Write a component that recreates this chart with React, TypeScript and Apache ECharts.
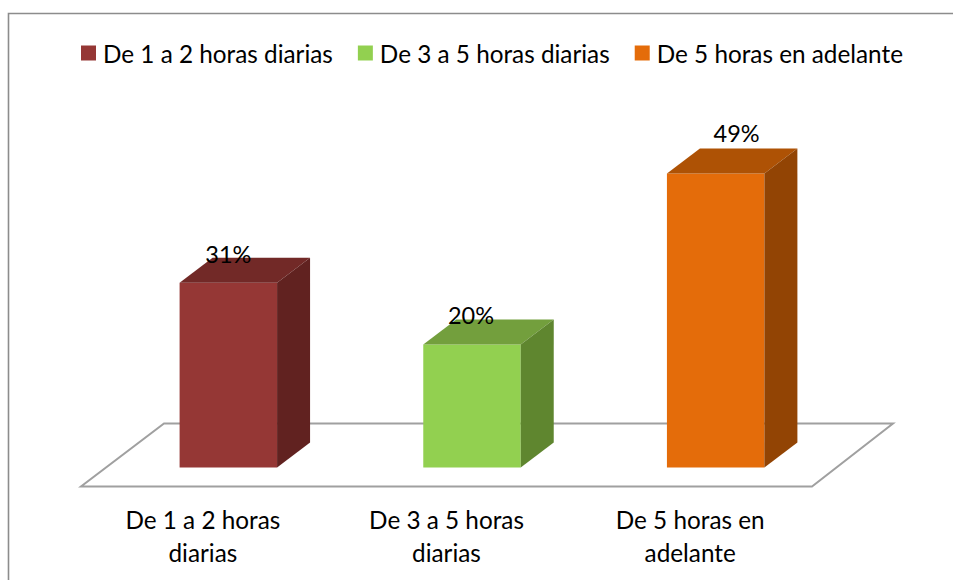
import React, { useEffect, useRef } from "react";
import * as echarts from "echarts";

const categories = ["De 1 a 2 horas\ndiarias", "De 3 a 5 horas\ndiarias", "De 5 horas en\nadelante"];
const seriesNames = ["De 1 a 2 horas diarias", "De 3 a 5 horas diarias", "De 5 horas en adelante"];
const barValues = [30.8, 20.5, 49];
const labelTexts = ["31%", "20%", "49%"];

const frontColors = ["#953735", "#92D050", "#E46C0A"];
const topColors = ["#722927", "#739F3D", "#AE5205"];
const sideColors = ["#612220", "#5F862F", "#924404"];
// label displacement from the bar's front-top centre (manually moved labels in the original)
const labelShiftX = [0, -1, 21];
const labelRise = [29, 30, 41];

const FONT = "Lato, Carlito, sans-serif";
const DEPTH_X = 33;
const DEPTH_Y = 25;
const BASE_X = 25.5;
const BASE_Y = 19;
const FLOOR_X = 83;
const FLOOR_Y = 63;

function barRenderer(i: number) {
  return (_params: any, api: any) => {
    const base = api.coord([i, 0]);
    const top = api.coord([i, api.value(1)]);
    const w = api.size([1, 0])[0] * 0.4;
    const x0 = base[0] + BASE_X - w / 2;
    const x1 = x0 + w;
    const y0 = base[1] - BASE_Y;
    const y1 = top[1] - BASE_Y;
    return {
      type: "group",
      children: [
        {
          type: "polygon",
          shape: { points: [[x0, y1], [x1, y1], [x1, y0], [x0, y0]] },
          style: { fill: frontColors[i] },
        },
        {
          type: "polygon",
          shape: { points: [[x0, y1], [x0 + DEPTH_X, y1 - DEPTH_Y], [x1 + DEPTH_X, y1 - DEPTH_Y], [x1, y1]] },
          style: { fill: topColors[i] },
        },
        {
          type: "polygon",
          shape: { points: [[x1, y1], [x1 + DEPTH_X, y1 - DEPTH_Y], [x1 + DEPTH_X, y0 - DEPTH_Y], [x1, y0]] },
          style: { fill: sideColors[i] },
        },
        {
          type: "text",
          z2: 10,
          style: {
            text: labelTexts[i],
            x: base[0] + BASE_X + labelShiftX[i],
            y: y1 - labelRise[i],
            align: "center",
            verticalAlign: "middle",
            fill: "#000000",
            font: `23.5px ${FONT}`,
          },
        },
      ],
    };
  };
}

function floorRenderer(params: any) {
  const c = params.coordSys;
  const bottom = c.y + c.height;
  return {
    type: "polygon",
    shape: {
      points: [
        [c.x, bottom],
        [c.x + c.width, bottom],
        [c.x + c.width + FLOOR_X - 2, bottom - FLOOR_Y],
        [c.x + FLOOR_X, bottom - FLOOR_Y],
      ],
    },
    style: { fill: "none", stroke: "#A0A0A0", lineWidth: 2 },
  };
}

export default function App() {
  const ref = useRef<HTMLDivElement>(null);
  useEffect(() => {
    if (!ref.current) return;
    const chart = echarts.init(ref.current, undefined, { renderer: "svg" });
    chart.setOption({
      animation: false,
      backgroundColor: "#ffffff",
      graphic: [
        {
          type: "polyline",
          z: 0,
          shape: { points: [[8.5, 580], [8.5, 13.5], [953, 13.5]] },
          style: { fill: "none", stroke: "#8C8C8C", lineWidth: 1.6 },
        },
      ],
      legend: {
        left: 81,
        top: 41,
        padding: 0,
        itemWidth: 15,
        itemHeight: 15,
        itemGap: 25,
        data: seriesNames.map((name) => ({ name, icon: "rect" })),
        textStyle: { fontFamily: FONT, fontSize: 24.3, color: "#000000", padding: [0, 0, 0, 2] },
      },
      grid: { left: 81, width: 731, top: 186.5, height: 300 },
      xAxis: {
        type: "category",
        data: categories,
        axisLine: { show: false },
        axisTick: { show: false },
        axisLabel: {
          color: "#000000",
          fontFamily: FONT,
          fontSize: 24.3,
          lineHeight: 33,
          margin: 16,
          interval: 0,
        },
      },
      yAxis: { type: "value", min: 0, max: 50, show: false, splitLine: { show: false } },
      series: [
        {
          type: "custom",
          name: "floor",
          z: 1,
          silent: true,
          renderItem: floorRenderer,
          data: [[0, 0]],
        },
        ...seriesNames.map((name, i) => ({
          type: "custom",
          name,
          z: 2,
          itemStyle: { color: frontColors[i] },
          renderItem: barRenderer(i),
          encode: { x: 0, y: 1 },
          data: [[i, barValues[i]]],
        })),
      ],
    });
    return () => chart.dispose();
  }, []);
  return <div ref={ref} style={{ position: "absolute", left: 0, top: 0, width: 953, height: 580 }} />;
}
